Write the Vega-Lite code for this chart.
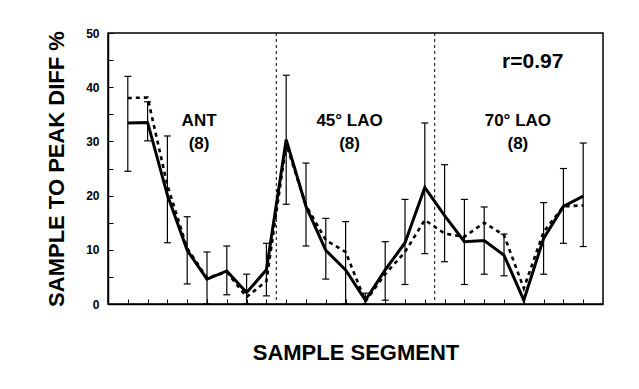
{
  "$schema": "https://vega.github.io/schema/vega-lite/v6.json",
  "width": 495,
  "height": 271,
  "autosize": {"type": "none"},
  "padding": {"left": 108, "top": 33, "right": 36, "bottom": 85},
  "background": "white",
  "config": {
    "view": {"stroke": "black", "strokeWidth": 1.5},
    "font": "Liberation Sans",
    "axis": {"domainColor": "black", "tickColor": "black", "labelColor": "black", "titleColor": "black", "grid": false}
  },
  "datasets": {
    "pts": [
      {"i": 0, "solid": 33.4, "dashed": 38.0, "lo": 24.5, "hi": 42.0},
      {"i": 1, "solid": 33.5, "dashed": 38.1, "lo": 30.1, "hi": 37.3},
      {"i": 2, "solid": 20.1, "dashed": 21.9, "lo": 11.3, "hi": 31.0},
      {"i": 3, "solid": 9.9, "dashed": 10.3, "lo": 3.7, "hi": 16.1},
      {"i": 4, "solid": 4.6, "dashed": 4.8, "lo": 0.0, "hi": 9.6},
      {"i": 5, "solid": 6.1, "dashed": 5.9, "lo": 1.7, "hi": 10.7},
      {"i": 6, "solid": 2.1, "dashed": 1.3, "lo": 0.0, "hi": 5.5},
      {"i": 7, "solid": 6.3, "dashed": 4.2, "lo": 1.5, "hi": 11.2},
      {"i": 8, "solid": 30.3, "dashed": 29.5, "lo": 18.4, "hi": 42.2},
      {"i": 9, "solid": 18.0, "dashed": 18.2, "lo": 10.7, "hi": 26.0},
      {"i": 10, "solid": 9.9, "dashed": 11.8, "lo": 4.6, "hi": 15.8},
      {"i": 11, "solid": 6.3, "dashed": 9.6, "lo": 0.0, "hi": 15.2},
      {"i": 12, "solid": 0.7, "dashed": 0.5, "lo": 0.0, "hi": 2.0},
      {"i": 13, "solid": 6.3, "dashed": 5.5, "lo": 0.7, "hi": 11.5},
      {"i": 14, "solid": 11.3, "dashed": 9.6, "lo": 3.6, "hi": 19.3},
      {"i": 15, "solid": 21.5, "dashed": 15.5, "lo": 9.3, "hi": 33.4},
      {"i": 16, "solid": 16.3, "dashed": 13.0, "lo": 7.8, "hi": 25.7},
      {"i": 17, "solid": 11.5, "dashed": 12.4, "lo": 3.6, "hi": 19.3},
      {"i": 18, "solid": 11.7, "dashed": 15.0, "lo": 5.5, "hi": 17.9},
      {"i": 19, "solid": 9.0, "dashed": 12.7, "lo": 5.2, "hi": 12.9},
      {"i": 20, "solid": 0.7, "dashed": 2.9, "lo": null, "hi": null},
      {"i": 21, "solid": 12.1, "dashed": 13.3, "lo": 5.5, "hi": 18.7},
      {"i": 22, "solid": 18.0, "dashed": 18.0, "lo": 11.2, "hi": 25.0},
      {"i": 23, "solid": 19.9, "dashed": 18.2, "lo": 10.6, "hi": 29.7}
    ],
    "dividers": [{"d": 7.5}, {"d": 15.5}],
    "labels": [
      {"x": 3.6, "y": 33.8, "t": "ANT"},
      {"x": 3.6, "y": 29.5, "t": "(8)"},
      {"x": 11.2, "y": 33.8, "t": "45° LAO"},
      {"x": 11.2, "y": 29.5, "t": "(8)"},
      {"x": 19.7, "y": 33.8, "t": "70° LAO"},
      {"x": 19.7, "y": 29.5, "t": "(8)"}
    ],
    "rlabel": [{"x": 20.45, "y": 44.7, "t": "r=0.97"}]
  },
  "encoding": {
    "x": {
      "type": "quantitative",
      "scale": {"domain": [-1, 24], "nice": false, "zero": false},
      "axis": {
        "title": "SAMPLE SEGMENT",
        "titleFont": "Liberation Sans",
        "titleFontSize": 22,
        "titleFontWeight": "bold",
        "titlePadding": 38,
        "labels": false,
        "values": [0,1,2,3,4,5,6,7,8,9,10,11,12,13,14,15,16,17,18,19,20,21,22,23],
        "tickSize": -5,
        "tickWidth": 1,
        "domainWidth": 1.5
      }
    },
    "y": {
      "type": "quantitative",
      "scale": {"domain": [0, 50], "nice": false},
      "axis": {
        "title": "SAMPLE TO PEAK DIFF %",
        "titleFont": "Liberation Sans",
        "titleFontSize": 22,
        "titleFontWeight": "bold",
        "titlePadding": 17,
        "values": [0,5,10,15,20,25,30,35,40,45,50],
        "labelExpr": "datum.value % 10 == 0 ? datum.label : ''",
        "labelFontSize": 12,
        "labelFontWeight": "bold",
        "labelPadding": 14,
        "tickSize": -5,
        "tickWidth": 1,
        "domainWidth": 1.5
      }
    }
  },
  "layer": [
    {
      "data": {"name": "dividers"},
      "mark": {"type": "rule", "color": "black", "strokeWidth": 1, "strokeDash": [3, 3]},
      "encoding": {"x": {"field": "d", "type": "quantitative"}}
    },
    {
      "data": {"name": "pts"},
      "transform": [{"filter": "datum.lo != null"}],
      "mark": {"type": "rule", "color": "black", "strokeWidth": 1.2},
      "encoding": {
        "x": {"field": "i", "type": "quantitative"},
        "y": {"field": "lo", "type": "quantitative"},
        "y2": {"field": "hi"}
      }
    },
    {
      "data": {"name": "pts"},
      "transform": [{"filter": "datum.lo != null"}],
      "mark": {"type": "tick", "orient": "horizontal", "color": "black", "size": 7, "thickness": 1.2, "opacity": 1},
      "encoding": {
        "x": {"field": "i", "type": "quantitative"},
        "y": {"field": "lo", "type": "quantitative"}
      }
    },
    {
      "data": {"name": "pts"},
      "transform": [{"filter": "datum.hi != null"}],
      "mark": {"type": "tick", "orient": "horizontal", "color": "black", "size": 7, "thickness": 1.2, "opacity": 1},
      "encoding": {
        "x": {"field": "i", "type": "quantitative"},
        "y": {"field": "hi", "type": "quantitative"}
      }
    },
    {
      "data": {"name": "pts"},
      "mark": {"type": "line", "color": "black", "strokeWidth": 2.6, "strokeDash": [4, 4]},
      "encoding": {
        "x": {"field": "i", "type": "quantitative"},
        "y": {"field": "dashed", "type": "quantitative"}
      }
    },
    {
      "data": {"name": "pts"},
      "mark": {"type": "line", "color": "black", "strokeWidth": 3},
      "encoding": {
        "x": {"field": "i", "type": "quantitative"},
        "y": {"field": "solid", "type": "quantitative"}
      }
    },
    {
      "data": {"name": "labels"},
      "mark": {"type": "text", "font": "Liberation Sans", "fontSize": 17, "fontWeight": "bold", "color": "black", "align": "center", "baseline": "middle"},
      "encoding": {
        "x": {"field": "x", "type": "quantitative"},
        "y": {"field": "y", "type": "quantitative"},
        "text": {"field": "t"}
      }
    },
    {
      "data": {"name": "rlabel"},
      "mark": {"type": "text", "font": "Liberation Sans", "fontSize": 21, "fontWeight": "bold", "color": "black", "align": "center", "baseline": "middle"},
      "encoding": {
        "x": {"field": "x", "type": "quantitative"},
        "y": {"field": "y", "type": "quantitative"},
        "text": {"field": "t"}
      }
    }
  ]
}
